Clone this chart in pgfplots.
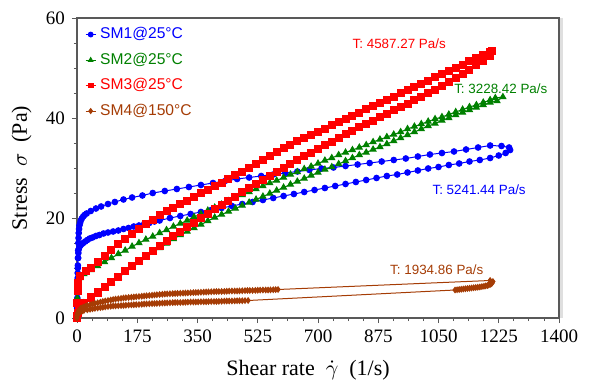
\documentclass[border=0pt]{standalone}
\usepackage{pgfplots}
\pgfplotsset{compat=1.18}
\usepackage{fontspec}
\setmainfont{Liberation Serif}
\setsansfont{Liberation Sans}
\definecolor{cblue}{RGB}{0,0,255}
\definecolor{cgreen}{RGB}{0,128,0}
\definecolor{cred}{RGB}{255,0,0}
\definecolor{cbrown}{RGB}{165,60,5}
\begin{document}
\begin{tikzpicture}
\begin{axis}[
 scale only axis, width=241pt, height=150pt,
 xmin=0, xmax=1400, ymin=0, ymax=60,
 xtick={0,175,...,1400}, ytick={0,20,40,60},
 minor x tick num=3, minor y tick num=3,
 tick align=outside, xtick pos=bottom, ytick pos=left,
 major tick length=2.5pt, minor tick length=1.5pt,
 tick style={gray!70!black, line width=0.4pt},
 axis line style={gray!70!black, line width=0.6pt},
 /pgf/number format/assume math mode=true,
 /pgf/number format/1000 sep={},
 ticklabel style={font=\fontsize{9.5}{11}\selectfont},
 xlabel={Shear rate\ \ $\dot{\gamma}$\ \ (1/s)},
 ylabel={Stress\ \ $\sigma$\ \ (Pa)},
 label style={font=\fontsize{11}{13}\selectfont},
 xlabel style={at={([xshift=-5pt,yshift=-26pt]axis description cs:0.5,0)}, anchor=center},
 ylabel style={at={([xshift=-27.7pt]axis description cs:0,0.5)}, anchor=center},
 legend style={at={(axis description cs:0.012,0.99)}, anchor=north west, draw=none, fill=none,
   font=\sffamily\fontsize{7.8}{9}\selectfont, row sep=1.6pt, inner sep=1pt},
 legend cell align=left,
 legend image code/.code={\draw[mark repeat=2,mark phase=2,mark size=1.2pt] plot coordinates {(0pt,0pt) (2.5pt,0pt) (5pt,0pt)};},
]
% SM1 blue
\addplot[cblue, line width=0.5pt, mark=*, mark size=1.4pt] table {
x y
0 0
0.5 2
1 5
1.5 7
2 9
2.5 10.5
3 12
4 13
5 13.8
7 14.2
10 14.5
14 14.8
18 15
24 15.3
30 15.6
37 15.9
45 16.1
55 16.4
65 16.6
77 16.9
90 17.1
105 17.3
120 17.5
135 17.8
150 18
165 18.3
180 18.5
195 18.8
210 19
225 19.3
240 19.5
270 20
300 20.4
330 20.8
360 21.2
390 21.6
420 22
450 22.4
480 22.8
510 23.2
540 23.6
570 24
600 24.4
630 24.8
660 25.2
690 25.6
720 26
750 26.4
780 26.8
810 27.2
840 27.6
870 28
900 28.4
930 28.7
960 29.1
990 29.5
1020 29.9
1050 30.2
1080 30.6
1110 30.9
1140 31.3
1170 31.6
1200 32
1225 32.5
1245 33
1258 33.6
1255 34.1
1233 34.4
1200 34.5
1165 34.1
1130 33.7
1095 33.3
1060 33.0
1025 32.7
990 32.3
955 31.9
920 31.6
885 31.3
850 31
815 30.7
780 30.4
745 30.1
710 29.9
675 29.6
640 29.3
605 29
570 28.7
535 28.4
500 28.1
465 27.8
430 27.4
395 27
360 26.6
325 26.2
290 25.8
255 25.4
220 25
190 24.5
160 24.1
135 23.7
110 23.2
90 22.8
70 22.3
55 21.9
40 21.4
28 20.9
22 20.6
18 20.3
14 19.9
11 19.5
9 19
7 18.5
6 17.8
5 17
4.5 16
4 15
3.5 13.5
3 12
2.5 10
2 8
1.5 6
1 4
0.5 2
0 0
};
\addlegendentry{\textcolor{cblue}{SM1@25°C}}
% SM2 green
\addplot[cgreen, line width=0.5pt, mark=triangle*, mark size=1.7pt] table {
x y
0 0
2 1
5 1.8
10 2.3
20 3.0
40 4.0
60 5.0
80 6.1
100 7.1
120 8.1
140 9.1
160 10.1
180 11.1
200 12.1
220 13.1
240 14.0
260 14.9
280 15.8
300 16.6
320 17.3
340 18.0
360 18.7
380 19.4
400 20.1
420 20.7
440 21.3
460 21.9
480 22.5
500 23.1
520 23.7
540 24.3
560 24.9
580 25.5
600 26.1
620 26.7
640 27.3
660 27.9
680 28.5
700 29.1
720 29.7
740 30.2
760 30.8
780 31.4
800 32.0
820 32.6
840 33.1
860 33.7
880 34.2
900 34.8
920 35.4
940 36.0
960 36.6
980 37.2
1000 37.8
1020 38.4
1040 38.9
1060 39.5
1080 40.0
1100 40.6
1120 41.1
1140 41.6
1160 42.1
1180 42.6
1200 43.1
1220 43.4
1237 44.2
1215 44.0
1200 43.6
1180 43.1
1160 42.6
1140 42.2
1120 41.7
1100 41.2
1080 40.7
1060 40.2
1040 39.8
1020 39.3
1000 38.8
980 38.3
960 37.8
940 37.2
920 36.7
900 36.2
880 35.7
860 35.2
840 34.6
820 34.1
800 33.6
780 33.1
760 32.6
740 32.0
720 31.5
700 30.9
680 30.3
660 29.8
640 29.2
620 28.7
600 28.1
580 27.5
560 27.0
540 26.4
520 25.8
500 25.2
480 24.6
460 24.0
440 23.4
420 22.7
400 22.1
380 21.5
360 20.8
340 20.2
320 19.5
300 18.9
280 18.3
260 17.6
240 17.0
220 16.3
200 15.7
180 15.0
160 14.3
140 13.5
120 12.8
100 12.0
80 11.2
60 10.4
40 9.6
20 8.8
8 8.0
3 7.0
1 4.0
0 0
};
\addlegendentry{\textcolor{cgreen}{SM2@25°C}}
% SM3 red
\addplot[cred, line width=0.5pt, mark=square*, mark size=1.75pt] table {
x y
0 0
2 1
5 1.8
10 2.4
20 3.1
40 4.1
60 5.1
80 6.2
100 7.2
120 8.2
140 9.3
160 10.3
180 11.4
200 12.4
220 13.4
240 14.4
260 15.4
280 16.3
300 17.2
320 18.1
340 19.0
360 19.9
380 20.8
400 21.7
420 22.5
440 23.4
460 24.2
480 25.1
500 25.9
520 26.7
540 27.6
560 28.4
580 29.2
600 30.0
620 30.8
640 31.5
660 32.3
680 33.0
700 33.8
720 34.5
740 35.2
760 36.0
780 36.7
800 37.4
820 38.1
840 38.8
860 39.4
880 40.1
900 40.8
920 41.5
940 42.2
960 42.8
980 43.5
1000 44.2
1020 44.9
1040 45.6
1060 46.4
1080 47.1
1100 47.9
1120 48.7
1140 49.6
1160 50.5
1180 51.4
1200 52.4
1205 53.3
1200 53.2
1180 52.6
1160 51.9
1140 51.3
1120 50.6
1100 50.0
1080 49.4
1060 48.7
1040 48.1
1020 47.4
1000 46.8
980 46.2
960 45.5
940 44.9
920 44.2
900 43.6
880 43.0
860 42.3
840 41.7
820 41.0
800 40.4
780 39.8
760 39.1
740 38.5
720 37.8
700 37.2
680 36.6
660 35.9
640 35.3
620 34.6
600 33.9
580 33.2
560 32.4
540 31.6
520 30.8
500 30.0
480 29.2
460 28.5
440 27.7
420 27.0
400 26.3
380 25.6
360 24.9
340 24.1
320 23.4
300 22.7
280 22.0
260 21.3
240 20.5
220 19.6
200 18.8
180 17.8
160 16.8
140 15.8
120 14.7
100 13.6
80 12.4
60 11.1
40 10.0
25 9.3
10 8.3
4 7.0
2 5.5
1 3.0
0 0.5
};
\addlegendentry{\textcolor{cred}{SM3@25°C}}
% SM4 brown
\addplot[cbrown, line width=0.5pt, mark=diamond*, mark size=1.35pt] table {
x y
0 0
1 0.5
3 0.9
6 1.1
10 1.3
15 1.4
20 1.5
30 1.65
38 1.75
45 1.85
52 1.92
60 2.0
68 2.08
75 2.15
82 2.22
90 2.3
98 2.35
105 2.4
112 2.42
120 2.45
128 2.48
135 2.5
142 2.55
150 2.6
158 2.62
165 2.65
172 2.68
180 2.7
188 2.75
195 2.8
202 2.82
210 2.85
218 2.88
225 2.9
232 2.92
240 2.95
248 2.98
255 3.0
262 3.02
270 3.05
278 3.08
285 3.1
292 3.1
300 3.1
308 3.12
315 3.15
322 3.18
330 3.2
338 3.2
345 3.2
352 3.22
360 3.25
368 3.25
375 3.25
382 3.28
390 3.3
398 3.3
405 3.3
412 3.32
420 3.35
428 3.38
435 3.4
442 3.4
450 3.4
458 3.42
465 3.45
472 3.45
480 3.45
488 3.48
497 3.5
1098 5.6
1104 5.65
1110 5.7
1116 5.75
1122 5.8
1128 5.85
1134 5.9
1140 5.95
1146 6.0
1152 6.05
1158 6.1
1164 6.15
1170 6.2
1176 6.28
1182 6.35
1187 6.42
1192 6.5
1196 6.6
1200 6.7
1203 6.85
1206 7.0
1208 7.3
1200 7.5
584 5.7
577 5.68
570 5.65
562 5.62
555 5.6
548 5.6
540 5.6
532 5.58
525 5.55
518 5.52
510 5.5
502 5.5
495 5.5
488 5.48
480 5.45
472 5.42
465 5.4
458 5.4
450 5.4
442 5.38
435 5.35
428 5.32
420 5.3
412 5.3
405 5.3
398 5.28
390 5.25
382 5.22
375 5.2
368 5.18
360 5.15
352 5.12
345 5.1
338 5.08
330 5.05
322 5.02
315 5.0
308 4.98
300 4.95
292 4.92
285 4.9
278 4.88
270 4.85
262 4.82
255 4.8
248 4.75
240 4.7
232 4.65
225 4.6
218 4.55
210 4.5
202 4.45
195 4.4
188 4.35
180 4.3
172 4.25
165 4.2
158 4.15
150 4.1
142 4.05
135 4.0
128 3.92
120 3.85
112 3.78
105 3.7
98 3.6
90 3.5
82 3.4
75 3.3
68 3.18
60 3.05
52 2.92
45 2.8
38 2.65
30 2.5
25 2.35
20 2.2
15 2.05
10 1.9
5 1.5
2 1.0
0 0.5
};
\addlegendentry{\textcolor{cbrown}{SM4@150°C}}
\node[font=\sffamily\fontsize{6.7}{8}\selectfont, text=cred] at (axis cs:936,54.9) {T: 4587.27 Pa/s};
\node[font=\sffamily\fontsize{6.7}{8}\selectfont, text=cgreen] at (axis cs:1231,45.9) {T: 3228.42 Pa/s};
\node[font=\sffamily\fontsize{6.7}{8}\selectfont, text=cblue] at (axis cs:1168,25.7) {T: 5241.44 Pa/s};
\node[font=\sffamily\fontsize{6.7}{8}\selectfont, text=cbrown] at (axis cs:1045,9.7) {T: 1934.86 Pa/s};
\end{axis}
\draw[gray!25, line width=1.5pt] ([xshift=1.1pt]current axis.north east) -- ([xshift=1.1pt]current axis.south east);
\pgfresetboundingbox
\path[use as bounding box] ([xshift=-38.5pt,yshift=-33.5pt]current axis.south west) rectangle ([xshift=17pt,yshift=9pt]current axis.north east);
\end{tikzpicture}
\end{document}
